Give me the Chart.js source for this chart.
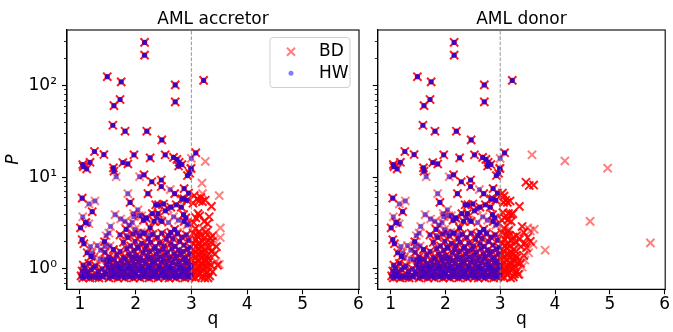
<!DOCTYPE html>
<html>
<head>
<meta charset="utf-8">
<script src="https://cdn.jsdelivr.net/npm/chart.js@4.4.0/dist/chart.umd.min.js"></script>
<style>
  html, body { margin: 0; padding: 0; background: #fff; }
  #wrap { position: relative; width: 673px; height: 332px; }
  canvas { position: absolute; top: 0; }
</style>
</head>
<body>
<div id="wrap">
  <canvas id="accretor" width="370" height="332" style="left:0px"></canvas>
  <canvas id="donor" width="303" height="332" style="left:370px"></canvas>
</div>
<script>
// axis setup
const panelTitles = ['AML accretor', 'AML donor'];
const seriesNames = ['BD', 'HW'];
const qTicks = [1, 2, 3, 4, 5, 6];
const pTicks = [0.7, 0.8, 0.9, 1, 2, 3, 4, 5, 6, 7, 8, 9, 10, 20, 30, 40, 50, 60, 70, 80, 90, 100, 200, 300];
const qRange = [0.767, 6.01];
const pRange = [0.605, 400];
const qCrit = 3;

// [q, P] -- systems that show up several times (drawn darker)
const hwStrong = [
  [2.16,293],[2.16,213],[1.49,124],[1.74,109],[2.71,101],[3.22,113],
  [1.72,70],[1.61,60],[2.71,66],[1.59,36.7],[1.81,31.6],[2.20,31.6],[2.47,25.4],
  [1.26,19.0],[1.43,17.6],[1.97,17.5],[2.26,16.2],[2.53,17.5],[2.68,16.4],[3.08,18.4],
  [1.05,13.7],[1.06,13.0],[1.12,12.3],[1.18,14.5],[1.60,12.6],[1.61,11.6],[1.77,14.4],[1.86,13.9],
  [2.74,15.6],[2.78,14.5],[2.83,13.7],[2.77,13.2],
  [2.15,10.6],[2.29,8.9],[2.46,9.3],[2.46,7.9],[2.87,7.5],[2.93,10.4],[2.97,11.0],[2.99,12.4],
  [2.22,6.6],[2.70,6.6],[1.90,5.3],[1.04,5.9],[1.22,4.2],[1.01,2.8],[1.10,3.2],[1.04,2.08],
  [1.07,1.88],[1.20,1.37],[1.44,1.98],[2.83,5.8],[2.87,5.8],[2.92,5.6],[2.82,4.7],[2.36,5.0],
  [2.41,5.0],[2.50,5.1],[2.73,5.0],[2.30,4.0],[2.19,3.6],[2.86,3.9],[2.90,3.6],[2.87,3.3],
  [2.47,3.3],[2.33,3.3],[2.70,2.7],[2.40,4.0],[2.26,2.8],[2.63,2.5],[1.83,2.7],[2.14,3.4],
  [2.95,6.7],[2.53,4.3],[2.63,4.7],[1.13,1.5]
];

// [q, P] -- single systems, sparse
const hwFaint = [
  [3.00,16.0],[3.00,12.5],[2.07,10.1],[1.65,10.1],[2.62,7.3],[1.86,6.6],[1.16,5.1],[1.27,5.5],
  [1.05,3.7],[1.63,3.9],[1.73,3.5],[1.81,3.3],[1.88,3.0],[1.94,3.2],[1.97,3.7],[2.06,3.8],
  [2.58,4.5],[1.52,2.46],[1.47,2.3],[1.55,2.9],[1.37,1.6],[1.31,1.8],[1.19,1.75],[1.84,2.3],
  [1.99,2.7],[2.04,4.4],[1.96,4.0],[2.11,3.8],[2.20,3.5],[2.38,3.6],[2.44,3.4],[2.59,3.2],
  [2.68,3.7],[2.77,3.4],[2.92,3.0],[2.95,3.1],[2.75,2.5],[1.11,3.2],[1.16,3.1],[1.45,1.76],
  [1.54,1.78],[1.60,1.63],[1.22,1.5],[1.25,1.33],[1.36,1.28],[1.42,1.26],[1.48,1.25],[1.55,1.28],
  [2.02,2.46],[2.10,2.5],[2.17,2.46],[2.26,2.35]
];

// [q, P] -- crowded low-period cloud
const hwCloud = [
  [1.02,0.84],[1.05,0.80],[1.08,0.88],[1.11,0.82],[1.14,0.86],[1.18,0.80],[1.22,0.84],[1.27,0.81],
  [1.30,0.87],[1.34,0.80],[1.38,0.85],[1.42,0.82],[1.47,0.88],[1.52,0.80],[1.56,0.85],[1.60,0.82],
  [1.64,0.88],[1.68,0.80],[1.72,0.86],[1.76,0.83],[1.80,0.80],[1.84,0.87],[1.88,0.82],[1.92,0.85],
  [1.96,0.80],[2.00,0.88],[2.04,0.83],[2.08,0.80],[2.12,0.86],[2.16,0.82],[2.20,0.88],[2.24,0.80],
  [2.28,0.85],[2.32,0.82],[2.36,0.87],[2.40,0.80],[2.44,0.84],[2.48,0.88],[2.52,0.81],[2.56,0.85],
  [2.60,0.80],[2.64,0.87],[2.68,0.83],[2.72,0.80],[2.76,0.86],[2.80,0.82],[2.84,0.88],[2.88,0.80],
  [2.92,0.85],[2.96,0.82],[2.99,0.87],
  [1.04,0.95],[1.09,1.02],[1.13,0.93],[1.20,0.98],[1.25,1.04],[1.33,0.94],[1.40,1.00],[1.45,0.92],
  [1.50,1.03],[1.55,0.95],[1.59,1.00],[1.63,0.92],[1.67,1.04],[1.71,0.96],[1.75,1.01],[1.79,0.93],
  [1.83,0.99],[1.87,1.04],[1.91,0.94],[1.95,1.00],[1.99,0.92],[2.03,1.03],[2.07,0.96],[2.11,1.01],
  [2.15,0.93],[2.19,0.99],[2.23,1.04],[2.27,0.95],[2.31,1.01],[2.35,0.92],[2.39,0.98],[2.43,1.04],
  [2.47,0.94],[2.51,1.00],[2.55,0.93],[2.59,1.03],[2.63,0.97],[2.67,1.01],[2.71,0.92],[2.75,0.98],
  [2.79,1.04],[2.83,0.95],[2.87,1.01],[2.91,0.93],[2.95,0.99],[2.98,1.04],
  [1.06,1.10],[1.16,1.15],[1.28,1.08],[1.48,1.12],[1.53,1.20],[1.58,1.08],[1.62,1.26],[1.66,1.14],
  [1.70,1.07],[1.74,1.22],[1.78,1.11],[1.82,1.28],[1.86,1.16],[1.90,1.08],[1.94,1.24],[1.98,1.12],
  [2.02,1.29],[2.06,1.18],[2.10,1.07],[2.14,1.23],[2.18,1.13],[2.22,1.28],[2.26,1.09],[2.30,1.20],
  [2.34,1.14],[2.38,1.27],[2.42,1.08],[2.46,1.19],[2.50,1.25],[2.54,1.11],[2.58,1.22],[2.62,1.07],
  [2.66,1.17],[2.70,1.29],[2.74,1.12],[2.78,1.21],[2.82,1.08],[2.86,1.26],[2.90,1.15],[2.94,1.22],
  [2.98,1.10],
  [1.45,1.52],[1.52,1.35],[1.60,1.62],[1.66,1.42],[1.72,1.55],[1.78,1.33],[1.84,1.66],[1.88,1.45],
  [1.93,1.35],[1.97,1.58],[2.01,1.40],[2.05,1.68],[2.09,1.32],[2.13,1.50],[2.17,1.62],[2.21,1.38],
  [2.25,1.55],[2.29,1.33],[2.33,1.66],[2.37,1.44],[2.41,1.57],[2.45,1.35],[2.49,1.63],[2.53,1.42],
  [2.57,1.52],[2.61,1.34],[2.65,1.67],[2.69,1.46],[2.73,1.38],[2.77,1.60],[2.81,1.43],[2.85,1.55],
  [2.89,1.34],[2.93,1.64],[2.97,1.45],
  [1.72,2.35],[1.78,1.95],[1.86,2.20],[1.91,1.78],[1.95,2.40],[1.99,2.00],[2.03,1.74],[2.07,2.28],
  [2.11,1.90],[2.15,2.45],[2.19,1.80],[2.23,2.12],[2.27,1.95],[2.31,2.38],[2.35,1.75],[2.39,2.20],
  [2.43,1.92],[2.47,2.45],[2.51,1.78],[2.55,2.10],[2.59,2.30],[2.63,1.88],[2.67,2.15],[2.71,1.76],
  [2.75,2.40],[2.79,1.98],[2.83,2.22],[2.87,1.82],[2.91,2.35],[2.95,2.05],[2.98,1.72]
];

// BD-only systems, accretor panel
const accStrong = [
  [3.01,0.82],[3.04,0.88],[3.07,0.80],[3.10,0.95],[3.13,0.85],[3.16,0.90],[3.19,0.82],[3.22,0.98],
  [3.25,0.87],[3.29,0.93],[3.33,0.84],[3.02,1.05],[3.05,1.15],[3.08,1.00],[3.11,1.22],[3.14,1.08],
  [3.17,1.30],[3.20,1.12],[3.23,1.25],[3.27,1.05],[3.31,1.18],[3.35,1.10],[3.03,1.40],[3.06,1.55],
  [3.09,1.35],[3.12,1.65],[3.15,1.45],[3.18,1.75],[3.21,1.50],[3.24,1.62],[3.28,1.38],[3.32,1.70],
  [3.36,1.55],[3.04,1.90],[3.08,2.10],[3.12,1.85],[3.16,2.30],[3.20,2.00],[3.24,2.20],[3.28,1.95],
  [3.34,2.15],[3.03,2.45],[3.07,2.75],[3.10,2.30],[3.14,2.55],[3.15,3.8],[3.08,3.6],[3.12,4.0],
  [3.23,3.3],[3.32,3.7],[3.29,3.1],[3.36,4.8],[3.04,3.2],[3.05,6.3],[3.10,5.8],[3.14,5.5],
  [3.20,5.4],[3.25,5.6],[3.03,5.2],[3.17,6.0],[3.26,2.5],[3.38,2.3],[3.45,1.75],[3.38,0.93],
  [3.47,1.1],[3.30,0.80],[3.42,1.45],[3.06,0.92],[3.12,1.02],[3.18,1.15],[3.22,1.40],[3.26,1.20],
  [3.09,1.75],[3.19,1.02],[3.14,1.95],[3.02,1.25],[3.24,0.80],[3.30,1.30],[3.35,1.95]
];
const accFaint = [
  [3.25,14.8],[3.19,8.6],[3.20,6.6],[3.50,6.3],[3.52,2.8],[3.52,2.2],[3.40,2.05],[3.30,2.65],
  [3.44,1.2],[3.50,1.12],[3.38,1.62],[3.22,2.7],[3.18,1.6],[3.28,1.5],[3.11,1.45],[3.32,1.05],
  [3.15,1.25],[3.26,1.75]
];

// BD-only systems, donor panel
const donStrong = [
  [3.01,0.83],[3.04,0.90],[3.07,0.81],[3.10,0.96],[3.13,0.86],[3.16,0.92],[3.19,0.80],[3.22,1.00],
  [3.26,0.88],[3.30,0.95],[3.02,1.06],[3.05,1.16],[3.08,1.02],[3.11,1.24],[3.14,1.09],[3.17,1.32],
  [3.20,1.13],[3.23,1.27],[3.27,1.06],[3.32,1.16],[3.03,1.42],[3.06,1.57],[3.09,1.36],[3.12,1.68],
  [3.15,1.47],[3.18,1.78],[3.21,1.52],[3.25,1.64],[3.29,1.40],[3.43,1.40],[3.04,1.93],[3.08,2.12],
  [3.12,1.87],[3.16,2.32],[3.20,2.02],[3.24,2.22],[3.28,1.96],[3.35,2.10],[3.03,2.48],[3.07,2.78],
  [3.11,2.35],[3.15,2.60],[3.04,6.7],[3.07,6.2],[3.10,5.6],[3.13,5.3],[3.06,5.3],[3.18,5.5],
  [3.35,4.8],[3.05,4.1],[3.15,4.0],[3.20,3.9],[3.23,4.0],[3.08,3.6],[3.14,3.4],[3.20,3.3],
  [3.03,3.4],[3.47,8.8],[3.53,8.1],[3.61,8.2],[3.43,2.5],[3.50,2.2],[3.45,1.9],[3.55,2.0],
  [3.48,1.7],[3.40,2.9],[3.38,1.75],[3.30,2.3],[3.09,0.93],[3.12,1.03],[3.18,1.16],[3.22,1.42],
  [3.26,1.22],[3.09,1.77],[3.19,1.04],[3.02,1.27],[3.24,0.82],[3.30,1.32],[3.37,1.15],[3.33,0.87]
];
const donFaint = [
  [3.58,17.5],[4.18,15.0],[4.96,12.5],[4.64,3.3],[5.74,1.92],[3.82,1.6],[3.50,2.8],[3.62,2.7],
  [3.55,2.6],[3.60,1.85],[3.52,1.5],[3.45,1.25],[3.40,1.05],[3.35,0.88],[3.25,1.85],[3.17,2.7],
  [3.28,1.55]
];

Chart.defaults.font.family = "'DejaVu Sans', sans-serif";
Chart.defaults.font.size = 17;
Chart.defaults.color = '#000';

const bdFaintColor = 'rgba(255,0,0,0.5)';
const bdStrongColor = 'rgba(255,0,0,0.9)';
const hwFaintColor = 'rgba(0,0,255,0.5)';
const hwStrongColor = 'rgba(55,0,200,0.95)';
const hwCloudColor = 'rgba(50,0,210,0.75)';

const toPts = arr => arr.map(d => ({ x: d[0], y: d[1] }));
const isDecade = v => Math.abs(Math.log10(v) - Math.round(Math.log10(v))) < 1e-9;
const sup = { '-1': '⁻¹', '0': '⁰', '1': '¹', '2': '²', '3': '³' };

// outer frame + minor y ticks
const frame = {
  id: 'frame',
  afterDraw(chart) {
    const { ctx, chartArea: a, scales: { y } } = chart;
    ctx.save();
    ctx.strokeStyle = '#000';
    ctx.lineWidth = 0.8;
    y.ticks.forEach(t => {
      if (isDecade(t.value)) return;
      const py = Math.round(y.getPixelForValue(t.value)) + 0.5;
      ctx.beginPath();
      ctx.moveTo(a.left - 3, py);
      ctx.lineTo(a.left, py);
      ctx.stroke();
    });
    ctx.lineWidth = 1.1;
    ctx.strokeRect(a.left, a.top, a.right - a.left, a.bottom - a.top);
    ctx.restore();
  }
};

// framed legend in the upper right corner
const boxLegend = {
  id: 'boxLegend',
  afterDraw(chart) {
    const { ctx, chartArea: a } = chart;
    const w = 80, h = 50, x0 = a.right - 9 - w, y0 = a.top + 7.5;
    ctx.save();
    ctx.beginPath();
    ctx.roundRect(x0, y0, w, h, 3);
    ctx.fillStyle = 'rgba(255,255,255,0.8)';
    ctx.fill();
    ctx.strokeStyle = '#d0d0d0';
    ctx.lineWidth = 1;
    ctx.stroke();
    const cx = x0 + 21;
    // BD
    let cy = y0 + 14.2;
    ctx.strokeStyle = bdFaintColor;
    ctx.lineWidth = 2;
    ctx.beginPath();
    ctx.moveTo(cx - 4, cy - 4); ctx.lineTo(cx + 4, cy + 4);
    ctx.moveTo(cx + 4, cy - 4); ctx.lineTo(cx - 4, cy + 4);
    ctx.stroke();
    ctx.fillStyle = '#000';
    ctx.font = "17px 'DejaVu Sans'";
    ctx.textBaseline = 'middle';
    ctx.fillText(seriesNames[0], x0 + 49, cy);
    // HW
    cy = y0 + 35.8;
    ctx.fillStyle = hwFaintColor;
    ctx.beginPath();
    ctx.arc(cx, cy, 2.5, 0, Math.PI * 2);
    ctx.fill();
    ctx.fillStyle = '#000';
    ctx.fillText(seriesNames[1], x0 + 49, cy);
    ctx.restore();
  }
};

function makePanel(id, title, bdOnlyFaint, bdOnlyStrong, leftPanel) {
  const cross = { pointStyle: 'crossRot', pointRadius: 5.8, borderWidth: 2, backgroundColor: 'rgba(0,0,0,0)' };
  const dot = { pointStyle: 'circle', pointRadius: 2.6, borderWidth: 0 };
  const datasets = [
    {
      type: 'line', label: 'q = 3',
      data: [{ x: qCrit, y: pRange[0] }, { x: qCrit, y: pRange[1] }],
      showLine: true, borderColor: 'rgba(128,128,128,0.85)', borderWidth: 1,
      borderDash: [3.5, 1.8], pointRadius: 0, order: 0
    },
    { label: seriesNames[1], data: toPts(hwStrong), ...dot, backgroundColor: hwStrongColor, order: 1 },
    { label: seriesNames[1], data: toPts(hwCloud), ...dot, backgroundColor: hwCloudColor, order: 2 },
    { label: seriesNames[1], data: toPts(hwFaint), ...dot, backgroundColor: hwFaintColor, order: 3 },
    { label: seriesNames[0], data: toPts(hwStrong.concat(hwCloud, bdOnlyStrong)), ...cross, borderColor: bdStrongColor, order: 4 },
    { label: seriesNames[0], data: toPts(hwFaint.concat(bdOnlyFaint)), ...cross, borderColor: bdFaintColor, order: 5 }
  ];

  return new Chart(document.getElementById(id), {
    type: 'scatter',
    data: { datasets },
    options: {
      animation: false,
      responsive: false,
      layout: { padding: { left: 0, right: leftPanel ? 11 : 5.1, top: 0, bottom: 0 } },
      plugins: {
        legend: { display: false },
        tooltip: { enabled: false },
        title: {
          display: true, text: title, fullSize: false, color: '#000',
          font: { size: 17, weight: 'normal' }, padding: { top: 9, bottom: 0.6 }
        }
      },
      scales: {
        x: {
          type: 'linear', min: qRange[0], max: qRange[1],
          afterBuildTicks: s => { s.ticks = qTicks.map(v => ({ value: v })); },
          afterFit: s => { s.height = 42.7; },
          ticks: { padding: 0, autoSkip: false, maxRotation: 0, callback: v => String(v) },
          grid: { drawOnChartArea: false, tickLength: 5, tickColor: '#000', tickWidth: 1.1 },
          border: { color: '#000', width: 1.1 },
          title: { display: true, text: 'q', font: { size: 17 }, padding: { top: 0, bottom: 2 } }
        },
        y: {
          type: 'logarithmic', min: pRange[0], max: pRange[1],
          afterBuildTicks: s => {
            s.ticks = pTicks.filter(v => v >= pRange[0] && v <= pRange[1])
              .map(v => ({ value: v, major: isDecade(v) }));
          },
          afterFit: s => { s.width = leftPanel ? 67 : 6.3; },
          ticks: {
            padding: 5, autoSkip: false,
            callback: v => (leftPanel && isDecade(v)) ? '10' + sup[String(Math.round(Math.log10(v)))] : ''
          },
          grid: {
            drawOnChartArea: false, tickLength: 5, tickWidth: 1.1,
            tickColor: c => (c.tick && isDecade(c.tick.value)) ? '#000' : 'rgba(0,0,0,0)'
          },
          border: { color: '#000', width: 1.1 },
          title: {
            display: leftPanel, text: 'P',
            font: { size: 17, style: 'italic' }, padding: { top: 3, bottom: 0 }
          }
        }
      }
    },
    plugins: leftPanel ? [frame, boxLegend] : [frame]
  });
}

makePanel('accretor', panelTitles[0], accFaint, accStrong, true);
makePanel('donor', panelTitles[1], donFaint, donStrong, false);
</script>
</body>
</html>
